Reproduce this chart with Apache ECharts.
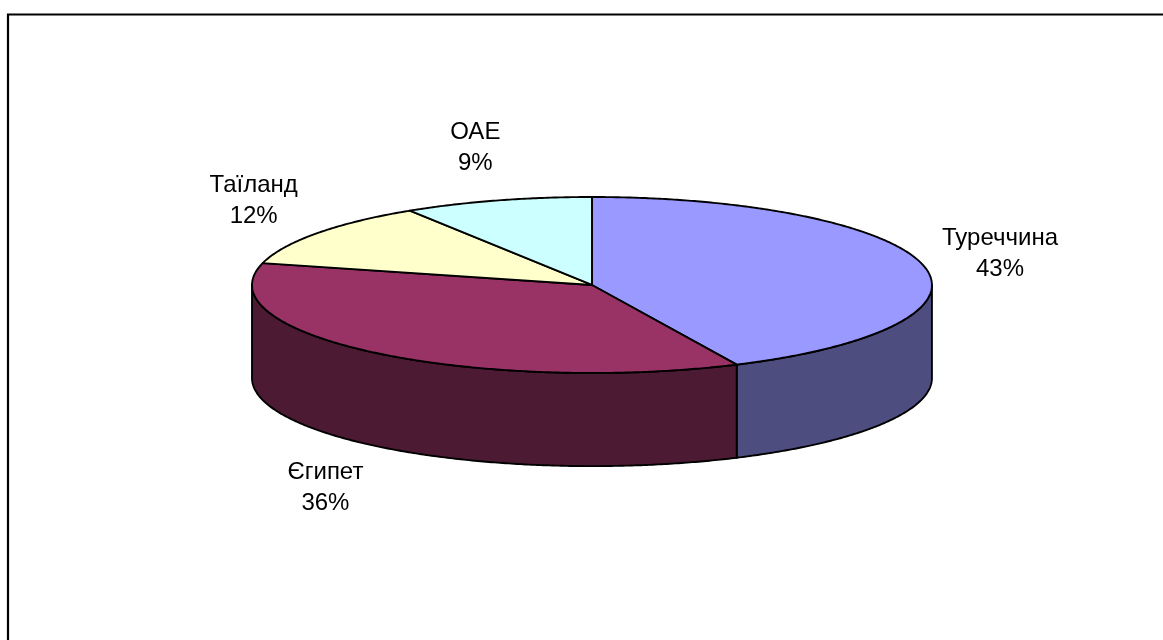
<!DOCTYPE html>
<html>
<head>
<meta charset="utf-8">
<script src="https://cdn.jsdelivr.net/npm/echarts@6/dist/echarts.min.js"></script>
<style>
html,body{margin:0;padding:0;background:#fff;}
#chart{width:1163px;height:640px;}
</style>
</head>
<body>
<div id="chart"></div>
<script>
const categories = ['Туреччина', 'Єгипет', 'Таїланд', 'ОАЕ'];
const values = [43, 36, 12, 9];
const topColors = ['#9999FF', '#993366', '#FFFFCC', '#CCFFFF'];
const sideColors = ['#4D4D80', '#4D1A33', '#80806A', '#6A8080'];

const total = values.reduce((s, v) => s + v, 0);
const starts = [], ends = [];
(function () {
  let acc = 0;
  values.forEach((v, i) => {
    starts.push(acc / total * Math.PI * 2);
    acc += v;
    ends.push(acc / total * Math.PI * 2);
  });
})();

function geom(api) {
  const W = api.getWidth(), H = api.getHeight();
  return {
    cx: W * 0.509, cy: H * 0.4453,
    rx: W * 0.2923, ry: H * 0.1375,
    depth: H * 0.1455
  };
}
function pt(g, t, dy) {
  return [g.cx + g.rx * Math.sin(t), g.cy - g.ry * Math.cos(t) + (dy || 0)];
}
function arc(g, a, b, dy) {
  const pts = [];
  const n = Math.max(2, Math.ceil((b - a) / (Math.PI / 360)));
  for (let k = 0; k <= n; k++) pts.push(pt(g, a + (b - a) * k / n, dy));
  return pts;
}

const chart = echarts.init(document.getElementById('chart'), null, {renderer: 'canvas'});
chart.setOption({
  animation: false,
  backgroundColor: '#fff',
  graphic: [{
    type: 'rect', silent: true,
    shape: {x: 8, y: 14.5, width: 1300, height: 800},
    style: {fill: 'none', stroke: '#000', lineWidth: 2.2}
  }],
  series: [
    {
      type: 'custom', coordinateSystem: 'none', silent: true, z: 1,
      data: values.map((v, i) => [i, v]),
      renderItem: function (params, api) {
        const g = geom(api);
        const i = params.dataIndex;
        const lo = Math.max(starts[i], Math.PI / 2);
        const hi = Math.min(ends[i], Math.PI * 1.5);
        if (lo >= hi) return {type: 'group', children: []};
        const top = arc(g, lo, hi, 0);
        const bot = arc(g, lo, hi, g.depth).reverse();
        return {
          type: 'polygon',
          shape: {points: top.concat(bot)},
          style: {fill: sideColors[i], stroke: '#000', lineWidth: 1.9, lineJoin: 'round'}
        };
      }
    },
    {
      type: 'custom', coordinateSystem: 'none', silent: true, z: 2,
      data: values.map((v, i) => [i, v]),
      renderItem: function (params, api) {
        const g = geom(api);
        const i = params.dataIndex;
        const a = starts[i], b = ends[i];
        const pts = [[g.cx, g.cy]].concat(arc(g, a, b, 0));
        const mid = (a + b) / 2;
        const front = Math.cos(mid) < 0;
        const lx = g.cx + g.rx * 1.23 * Math.sin(mid);
        const ly = g.cy - g.ry * 1.62 * Math.cos(mid) + (front ? g.depth : 0);
        const pct = Math.round(values[i] / total * 100);
        return {
          type: 'group',
          children: [
            {
              type: 'polygon',
              shape: {points: pts},
              style: {fill: topColors[i], stroke: '#000', lineWidth: 1.9, lineJoin: 'round'}
            },
            {
              type: 'text',
              x: lx, y: ly,
              style: {
                text: categories[i] + '\n' + pct + '%',
                font: '24px "Liberation Sans", Arial, sans-serif',
                fill: '#000',
                align: 'center',
                verticalAlign: 'middle',
                lineHeight: 31
              }
            }
          ]
        };
      }
    }
  ]
});
</script>
</body>
</html>
